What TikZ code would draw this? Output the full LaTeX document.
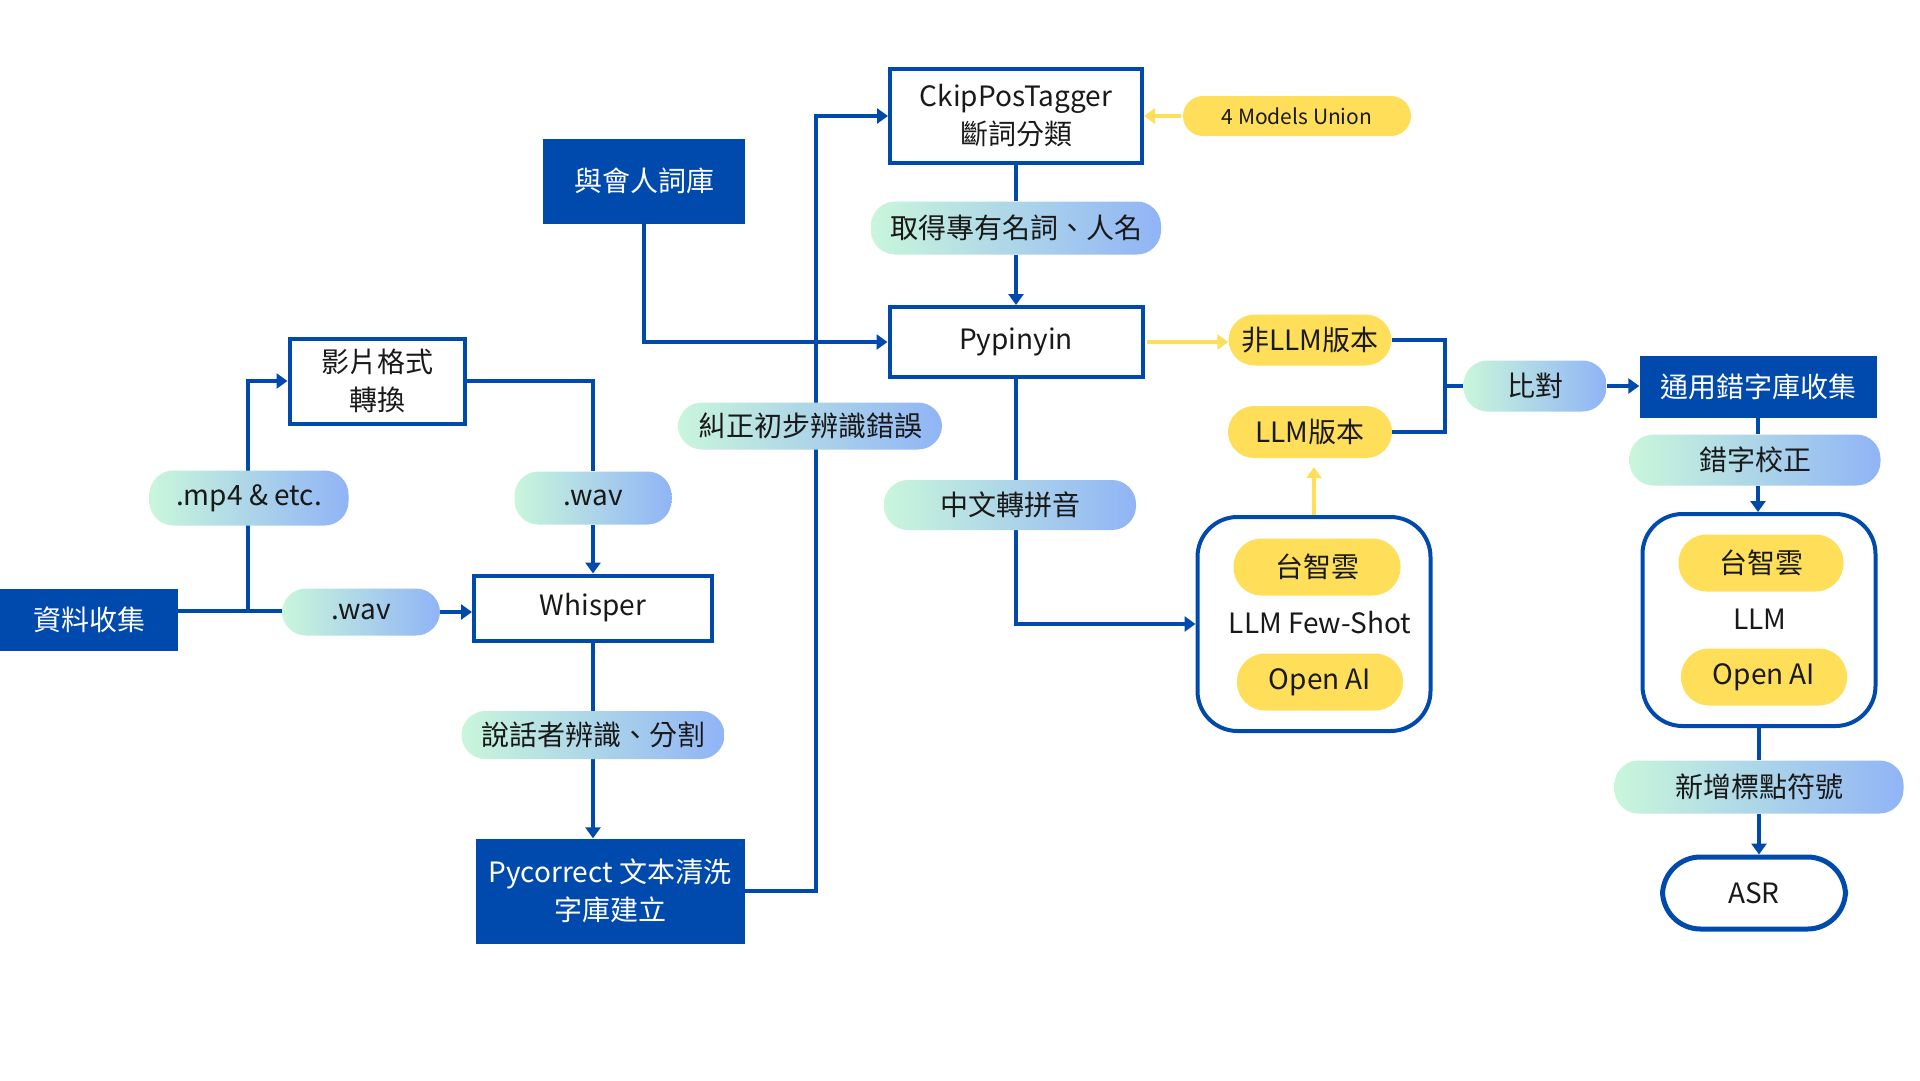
\documentclass[tikz,border=0pt]{standalone}
\usepackage{fontspec}
\setmainfont{Noto Sans CJK TC}
\usetikzlibrary{arrows.meta,backgrounds}
\definecolor{asrblue}{HTML}{004AAD}
\definecolor{asryellow}{HTML}{FFDE59}
\definecolor{mintleft}{HTML}{C9F6DB}
\definecolor{skyright}{HTML}{90B4F6}
\tikzset{
	every node/.style={font=\fontsize{28}{38}\selectfont, inner sep=0pt, align=center, text=black!90},
	solidbox/.style={fill=asrblue, text=white},
	framebox/.style={draw=asrblue, line width=4pt, fill=white},
	pill/.style={left color=mintleft, right color=skyright, rounded corners=24pt},
	sunpill/.style={fill=asryellow, rounded corners=26pt},
	conn/.style={draw=asrblue, line width=3.5pt},
	flow/.style={-{Triangle[length=11pt,width=15pt]}},
	sunline/.style={draw=asryellow, line width=3.5pt, -{Triangle[length=11pt,width=15pt]}},
}

\begin{document}
\begin{tikzpicture}[x=1pt,y=-1pt]
			%%%%% START %%%%%
			\useasboundingbox (0,0) rectangle (1920,1080);
			
			% left column
			\node[solidbox, minimum width=178pt, minimum height=62pt] (collect) at (89,620) {資料收集};
			\node[pill, minimum width=199pt, minimum height=55pt] (mp4) at (249,498) {.mp4 \& etc.};
			\node[framebox, minimum width=175pt, minimum height=85pt] (video) at (377,381) {影片格式\\轉換};
			\node[pill, minimum width=157pt, minimum height=53pt] (wavup) at (593,498) {.wav};
			\node[pill, minimum width=158pt, minimum height=47pt] (wavlow) at (361,612) {.wav};
			\node[framebox, minimum width=238pt, minimum height=65pt] (whisper) at (593,608) {Whisper};
			\node[pill, minimum width=263pt, minimum height=48pt] (speaker) at (593,735) {說話者辨識、分割};
			\node[solidbox, minimum width=269pt, minimum height=105pt] (pycorrect) at (610,891) {Pycorrect 文本清洗\\字庫建立};
			
			% middle column
			\node[pill, minimum width=264pt, minimum height=47pt] (fix) at (810,426) {糾正初步辨識錯誤};
			\node[solidbox, minimum width=202pt, minimum height=85pt] (dict) at (644,181) {與會人詞庫};
			\node[framebox, minimum width=252pt, minimum height=94pt] (ckip) at (1016,116) {CkipPosTagger\\斷詞分類};
			\node[sunpill, rounded corners=20pt, minimum width=228pt, minimum height=40pt, font=\fontsize{21}{26}\selectfont] (models) at (1297,116) {4 Models Union};
			\node[pill, minimum width=290pt, minimum height=53pt] (proper) at (1016,228) {取得專有名詞、人名};
			\node[framebox, minimum width=253pt, minimum height=70pt] (pypinyin) at (1016,342) {Pypinyin};
			\node[pill, minimum width=252pt, minimum height=50pt] (pinyin) at (1010,505) {中文轉拼音};
			
			% LLM branch
			\node[sunpill, minimum width=163pt, minimum height=51pt] (nonllm) at (1310,340) {非LLM版本};
			\node[sunpill, minimum width=164pt, minimum height=52pt] (llmver) at (1310,432) {LLM版本};
			\node[framebox, rounded corners=40pt, minimum width=233pt, minimum height=214pt] (fewshot) at (1314,624) {};
			\node[sunpill, rounded corners=28pt, minimum width=167pt, minimum height=57pt] (twccfew) at (1317,567) {台智雲};
			\node (fewtext) at (1320,623) {LLM Few-Shot};
			\node[sunpill, rounded corners=28pt, minimum width=166pt, minimum height=57pt] (openaifew) at (1320,682) {Open AI};
			
			% right column
			\node[pill, minimum width=143pt, minimum height=51pt] (compare) at (1535,386) {比對};
			\node[solidbox, minimum width=237pt, minimum height=62pt] (typo) at (1758,387) {通用錯字庫收集};
			\node[pill, minimum width=251pt, minimum height=51pt] (check) at (1755,460) {錯字校正};
			\node[framebox, rounded corners=40pt, minimum width=233pt, minimum height=212pt] (llmbox) at (1759,620) {};
			\node[sunpill, rounded corners=28pt, minimum width=165pt, minimum height=57pt] (twccllm) at (1761,563) {台智雲};
			\node (llmtext) at (1760,619) {LLM};
			\node[sunpill, rounded corners=28pt, minimum width=166pt, minimum height=57pt] (openaillm) at (1764,677) {Open AI};
			\node[pill, minimum width=289pt, minimum height=53pt] (punct) at (1759,787) {新增標點符號};
			\node[framebox, line width=5pt, rounded corners=38pt, minimum width=183pt, minimum height=72pt] (asr) at (1754,893) {ASR};
			
			\coordinate (split) at (248,611);
			\coordinate (climb) at (816,116);
			\coordinate (join) at (1445,386);
			
			\begin{scope}[on background layer]
			\fill[white] (0,0) rectangle (1920,1080);
			\draw[conn] (collect.east |- split) -- (split) -- (wavlow.west |- split);
			\draw[conn, flow] (split) |- (video.west);
			\draw[conn, flow] (wavlow.east) -- (wavlow.east -| whisper.west);
			\draw[conn] (video.east) -| (wavup.north);
			\draw[conn, flow] (wavup.south) -- (whisper.north);
			\draw[conn] (whisper.south) -- (speaker.north);
			\draw[conn, flow] (speaker.south) -- (speaker.south |- pycorrect.north);
			\draw[conn, flow] (pycorrect.east) -| (climb) -- (ckip.west);
			\draw[conn, flow] (dict.south) |- (pypinyin.west);
			\draw[conn] (ckip.south) -- (proper.north);
			\draw[conn, flow] (proper.south) -- (pypinyin.north);
			\draw[conn] (pypinyin.south) -- (pypinyin.south |- pinyin.north);
			\draw[conn, flow] (pypinyin.south |- pinyin.south) |- (fewshot.west);
			\draw[conn] (nonllm.east) -| (join) |- (llmver.east);
			\draw[conn] (join) -- (compare.west);
			\draw[conn, flow] (compare.east) -- (compare.east -| typo.west);
			\draw[conn] (typo.south) -- (typo.south |- check.north);
			\draw[conn, flow] (typo.south |- check.south) -- (typo.south |- llmbox.north);
			\draw[conn] (llmbox.south) -- (llmbox.south |- punct.north);
			\draw[conn, flow] (llmbox.south |- punct.south) -- (llmbox.south |- asr.north);
			\end{scope}
			
			\draw[sunline, shorten <=2pt] (models.west) -- (ckip.east);
			\draw[sunline, shorten <=2pt] (pypinyin.east) -- (pypinyin.east -| nonllm.west);
			\draw[sunline, shorten >=9pt] (fewshot.north) -- (llmver.south -| fewshot.north);
			
			%%%%% END %%%%%
\end{tikzpicture}
\end{document}
